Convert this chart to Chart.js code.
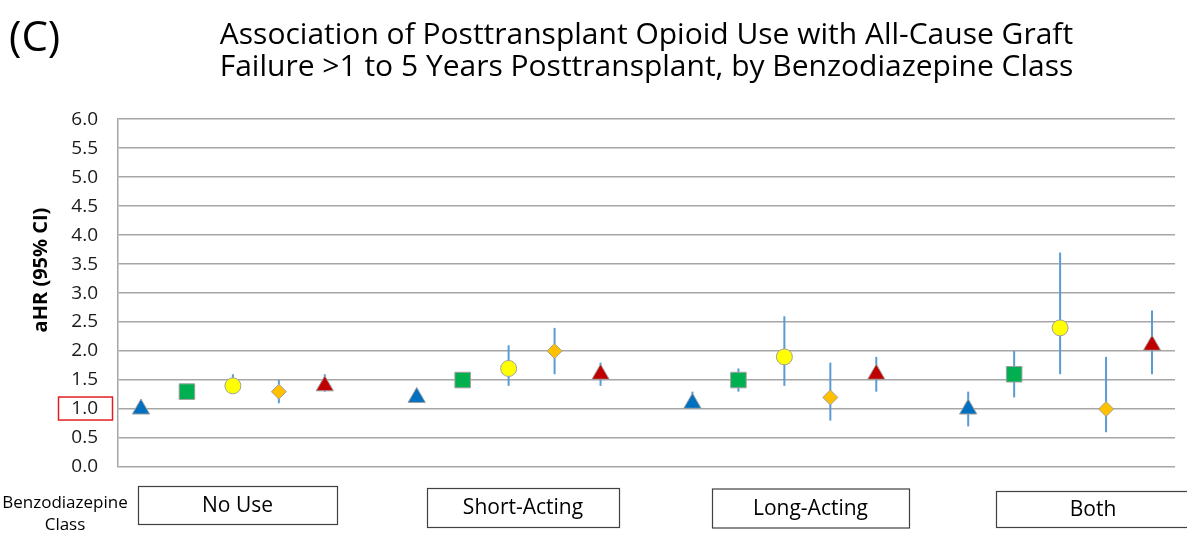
<!DOCTYPE html>
<html>
<head>
<meta charset="utf-8">
<script src="https://cdn.jsdelivr.net/npm/chart.js@4.4.1/dist/chart.umd.min.js"></script>
<style>
  html, body { margin: 0; padding: 0; background: #fff; }
  #wrap { width: 1187px; height: 536px; }
</style>
</head>
<body>
<div id="wrap"><canvas id="chart" width="1187" height="536"></canvas></div>
<script>
const benzoClasses = ['No Use', 'Short-Acting', 'Long-Acting', 'Both'];
const seriesNames = ['No Opioid Use', 'Opioid Level 1', 'Opioid Level 2', 'Opioid Level 3', 'Opioid Level 4'];

// aHR point estimates per benzodiazepine class
const noOpioid = [1.0, 1.2, 1.1, 1.0];
const level1 = [1.3, 1.5, 1.5, 1.6];
const level2 = [1.4, 1.7, 1.9, 2.4];
const level3 = [1.3, 2.0, 1.2, 1.0];
const level4 = [1.4, 1.6, 1.6, 2.1];

// 95% CI bounds
const noOpioidLo = [1.0, 1.2, 1.0, 0.7];
const noOpioidHi = [1.0, 1.2, 1.3, 1.3];
const level1Lo = [1.3, 1.5, 1.3, 1.2];
const level1Hi = [1.3, 1.5, 1.7, 2.0];
const level2Lo = [1.3, 1.4, 1.4, 1.6];
const level2Hi = [1.6, 2.1, 2.6, 3.7];
const level3Lo = [1.1, 1.6, 0.8, 0.6];
const level3Hi = [1.5, 2.4, 1.8, 1.9];
const level4Lo = [1.3, 1.4, 1.3, 1.6];
const level4Hi = [1.6, 1.8, 1.9, 2.7];

const yTicks = [0, 0.5, 1, 1.5, 2, 2.5, 3, 3.5, 4, 4.5, 5, 5.5, 6];

const estimates = [noOpioid, level1, level2, level3, level4];
const lows = [noOpioidLo, level1Lo, level2Lo, level3Lo, level4Lo];
const highs = [noOpioidHi, level1Hi, level2Hi, level3Hi, level4Hi];

const markerStyles = [
  { pointStyle: 'triangle', color: '#0070C0', radius: 10 },
  { pointStyle: 'rect', color: '#00B050', radius: 11 },
  { pointStyle: 'circle', color: '#FFFF00', radius: 8 },
  { pointStyle: 'rectRot', color: '#FFC000', radius: 7.5 },
  { pointStyle: 'triangle', color: '#C00000', radius: 10 },
];

const FONT = '"Open Sans", "Liberation Sans", sans-serif';
const slotsPerGroup = seriesNames.length + 1;

const datasets = estimates.map((values, s) => ({
  label: seriesNames[s],
  data: values.map((v, g) => ({ x: g * slotsPerGroup + s, y: v })),
  lows: lows[s],
  highs: highs[s],
  pointStyle: markerStyles[s].pointStyle,
  pointRadius: markerStyles[s].radius,
  pointHoverRadius: markerStyles[s].radius,
  backgroundColor: markerStyles[s].color,
  borderColor: '#A0A0A0',
  borderWidth: 1,
  showLine: false,
}));

// CI whiskers drawn under the markers
const errorBars = {
  id: 'errorBars',
  beforeDatasetsDraw(chart) {
    const { ctx, scales: { x, y } } = chart;
    ctx.save();
    ctx.strokeStyle = '#5B9BD5';
    ctx.lineWidth = 2;
    chart.data.datasets.forEach((ds) => {
      ds.data.forEach((pt, i) => {
        const px = x.getPixelForValue(pt.x);
        ctx.beginPath();
        ctx.moveTo(px, y.getPixelForValue(ds.lows[i]));
        ctx.lineTo(px, y.getPixelForValue(ds.highs[i]));
        ctx.stroke();
      });
    });
    ctx.restore();
  },
};

// panel letter, axis title, reference highlight and class boxes
const boxLayout = [
  [138, 486, 199, 38],
  [427, 488, 192, 39],
  [712, 488.5, 197, 39],
  [996, 491, 194, 36],
];

const annotations = {
  id: 'annotations',
  afterDraw(chart) {
    const { ctx, scales: { y } } = chart;
    ctx.save();
    ctx.fillStyle = '#000';
    ctx.textAlign = 'left';
    ctx.textBaseline = 'middle';
    ctx.font = '42px ' + FONT;
    ctx.fillText('(C)', 9, 39);

    ctx.save();
    ctx.translate(41, 270);
    ctx.rotate(-Math.PI / 2);
    ctx.textAlign = 'center';
    ctx.font = 'bold 20px ' + FONT;
    ctx.fillText('aHR (95% CI)', 0, 0);
    ctx.restore();

    const refY = y.getPixelForValue(1.0);
    ctx.strokeStyle = '#E02020';
    ctx.lineWidth = 1.5;
    ctx.strokeRect(58.5, refY - 12, 54, 23);

    ctx.textAlign = 'center';
    ctx.font = '17px ' + FONT;
    ctx.fillText('Benzodiazepine', 65, 503);
    ctx.fillText('Class', 65, 525);

    ctx.strokeStyle = '#404040';
    ctx.lineWidth = 1.2;
    ctx.font = '21px ' + FONT;
    boxLayout.forEach(([bx, by, bw, bh], i) => {
      ctx.strokeRect(bx + 0.5, by + 0.5, bw, bh);
      ctx.fillText(benzoClasses[i], bx + bw / 2, by + bh / 2 + 1);
    });
    ctx.restore();
  },
};

new Chart(document.getElementById('chart'), {
  type: 'scatter',
  data: { datasets },
  options: {
    responsive: false,
    animation: false,
    events: [],
    layout: { padding: { left: 0, right: 9, top: 0, bottom: 69 } },
    plugins: {
      legend: { display: false },
      tooltip: { enabled: false },
      title: {
        display: true,
        fullSize: false,
        text: [
          'Association of Posttransplant Opioid Use with All-Cause Graft',
          'Failure >1 to 5 Years Posttransplant, by Benzodiazepine Class',
        ],
        color: '#000',
        font: { family: FONT, size: 30, weight: 'normal', lineHeight: 1.07 },
        padding: { top: 19, bottom: 36 },
      },
    },
    scales: {
      x: {
        type: 'linear',
        min: -0.5,
        max: slotsPerGroup * benzoClasses.length - 1.5,
        display: false,
      },
      y: {
        min: 0,
        max: 6,
        afterBuildTicks: (scale) => { scale.ticks = yTicks.map((v) => ({ value: v })); },
        afterFit: (scale) => { scale.width = 118; },
        grid: { color: '#A6A6A6', lineWidth: 1.5, drawTicks: false },
        border: { display: true, color: '#A6A6A6', width: 1.5 },
        ticks: {
          padding: 20,
          color: '#1a1a1a',
          font: { family: FONT, size: 19 },
          callback: (v) => Number(v).toFixed(1),
        },
      },
    },
  },
  plugins: [errorBars, annotations],
});
</script>
</body>
</html>
